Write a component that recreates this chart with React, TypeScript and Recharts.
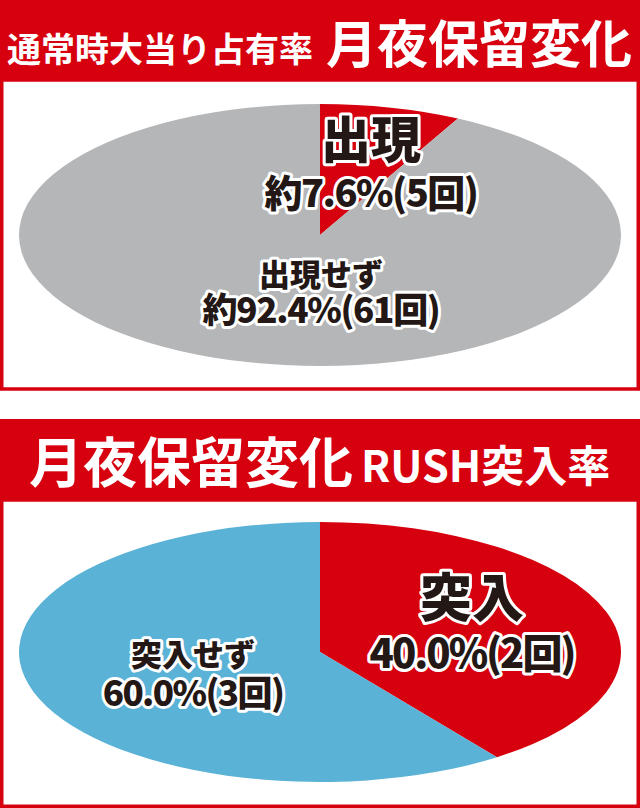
import React from 'react';
import { PieChart, Pie, Cell } from 'recharts';

// 通常時大当り占有率（回数）
const occurrenceNames = ['出現', '出現せず'];
const occurrenceCounts = [5, 61];

// RUSH突入率（回数）
const rushNames = ['突入', '突入せず'];
const rushCounts = [2, 3];

const RED = '#d7000f';
const GRAY = '#b5b6b8';
const BLUE = '#5ab2d6';
const INK = '#231815';
const FONT = '"Noto Sans CJK JP", "Noto Sans", sans-serif';

const R = 301; // radius of the pie before it is squashed into an ellipse
const BOX = 640;

type LabelSpot = {
  x: number; // offset from pie centre, screen px
  y: number;
  nameY: number;
  valueY: number;
  nameSize: number;
  valueSize: number;
  squeeze: number; // letter spacing of the value line
};

interface EllipsePieProps {
  names: string[];
  counts: number[];
  colors: string[];
  centerY: number;
  radiusY: number;
  approx?: boolean;
  spots: LabelSpot[];
}

const EllipsePie: React.FC<EllipsePieProps> = ({ names, counts, colors, centerY, radiusY, approx, spots }) => {
  const k = radiusY / R;
  const data = names.map((name, i) => ({ name, value: counts[i] }));

  const renderLabel = (props: any) => {
    const { cx, cy, index, percent, value } = props;
    const s = spots[index];
    const name = data[index].name;
    const text = `${approx ? '約' : ''}${(percent * 100).toFixed(1)}%(${value}回)`;
    return (
      <g transform={`translate(${cx + s.x},${cy + s.y / k}) scale(1,${1 / k})`}>
        <text
          textAnchor="middle"
          dominantBaseline="central"
          fill={INK}
          stroke="#fff"
          strokeWidth={6}
          strokeLinejoin="round"
          paintOrder="stroke"
          fontFamily={FONT}
          fontWeight={900}
        >
          <tspan x={0} y={s.nameY} fontSize={s.nameSize} dominantBaseline="central">
            {name}
          </tspan>
          <tspan x={0} y={s.valueY} fontSize={s.valueSize} letterSpacing={s.squeeze} dominantBaseline="central">
            {text}
          </tspan>
        </text>
      </g>
    );
  };

  return (
    <div
      style={{
        position: 'absolute',
        left: 0,
        top: centerY - BOX / 2,
        width: BOX,
        height: BOX,
        transform: `scaleY(${k})`,
        transformOrigin: '50% 50%',
      }}
    >
      <PieChart width={BOX} height={BOX} margin={{ top: 0, right: 0, bottom: 0, left: 0 }}>
        <Pie
          data={data}
          dataKey="value"
          nameKey="name"
          cx="50%"
          cy="50%"
          outerRadius={R}
          startAngle={90}
          endAngle={-270}
          stroke="none"
          label={renderLabel}
          labelLine={false}
          isAnimationActive={false}
        >
          {data.map((d, i) => (
            <Cell key={d.name} fill={colors[i]} />
          ))}
        </Pie>
      </PieChart>
    </div>
  );
};

const Frames = () => (
  <svg width={640} height={808} style={{ position: 'absolute', left: 0, top: 0 }}>
    <rect x={0} y={0} width={640} height={80} fill={RED} />
    <rect x={1.75} y={80} width={636.5} height={309} fill="none" stroke={RED} strokeWidth={3.5} />
    <text x={7} y={62} fontSize={34} fontWeight={700} fill="#fff" fontFamily={FONT}>
      通常時大当り占有率
    </text>
    <text x={326} y={63} fontSize={51} fontWeight={700} fill="#fff" fontFamily={FONT}>
      月夜保留変化
    </text>

    <rect x={0} y={419} width={640} height={81} fill={RED} />
    <rect x={1.75} y={500} width={636.5} height={306.25} fill="none" stroke={RED} strokeWidth={3.5} />
    <text x={29} y={483} fontSize={54} fontWeight={700} fill="#fff" fontFamily={FONT}>
      月夜保留変化
    </text>
    <text x={361} y={482} fontSize={43} fontWeight={700} fill="#fff" fontFamily={FONT}>
      RUSH突入率
    </text>
  </svg>
);

export default function App() {
  return (
    <div
      style={{
        position: 'absolute',
        left: 0,
        top: 0,
        width: 640,
        height: 808,
        overflow: 'hidden',
        background: '#fff',
      }}
    >
      <Frames />
      <EllipsePie
        names={occurrenceNames}
        counts={occurrenceCounts}
        colors={[RED, GRAY]}
        centerY={235}
        radiusY={131}
        approx
        spots={[
          { x: 51, y: -72, nameY: -27, valueY: 27, nameSize: 50, valueSize: 38, squeeze: -1.5 },
          { x: 1, y: 55, nameY: -18, valueY: 17, nameSize: 31, valueSize: 35, squeeze: -1.3 },
        ]}
      />
      <EllipsePie
        names={rushNames}
        counts={rushCounts}
        colors={[RED, BLUE]}
        centerY={652}
        radiusY={130}
        spots={[
          { x: 152, y: -30, nameY: -28, valueY: 29, nameSize: 52, valueSize: 40, squeeze: -2 },
          { x: -127, y: 19, nameY: -19, valueY: 19, nameSize: 31, valueSize: 35, squeeze: -1.6 },
        ]}
      />
    </div>
  );
}
